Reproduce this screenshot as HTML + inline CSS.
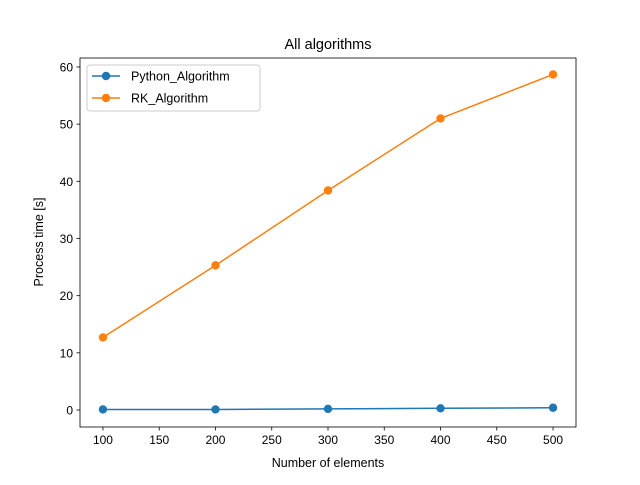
<!DOCTYPE html>
<html><head><meta charset="utf-8"><style>
body{margin:0;background:#fff;}
svg text{font-family:"Liberation Sans","DejaVu Sans",sans-serif;fill:#000;}
</style></head><body>
<svg id="chart" width="640" height="480" xmlns="http://www.w3.org/2000/svg">
<rect width="640" height="480" fill="#fff"/>
<text x="328" y="49" font-size="14.5" text-anchor="middle">All algorithms</text>
<g id="plot"></g>
<text x="328" y="467" font-size="12.5" text-anchor="middle">Number of elements</text>
<text transform="translate(43,242) rotate(-90)" font-size="12.5" text-anchor="middle">Process time [s]</text>
</svg>
<script>
const categories=[100,200,300,400,500];
const pythonValues=[0.1,0.1,0.2,0.3,0.4];
const rkValues=[12.7,25.3,38.4,51.0,58.7];
const xTicks=[100,150,200,250,300,350,400,450,500];
const yTicks=[0,10,20,30,40,50,60];
const L=80,R=576,T=58,B=427;
const xMin=79.6,xMax=520.4,yMin=-2.97,yMax=61.57;
const xs=v=>L+(v-xMin)/(xMax-xMin)*(R-L);
const ys=v=>B-(v-yMin)/(yMax-yMin)*(B-T);
const NS="http://www.w3.org/2000/svg";
const g=document.getElementById('plot');
function mk(tag,attrs,parent){const e=document.createElementNS(NS,tag);for(const k in attrs)e.setAttribute(k,attrs[k]);(parent||g).appendChild(e);return e;}
xTicks.forEach(t=>{
  const x=xs(t);
  const l=mk('line',{x1:x,x2:x,y1:B,y2:B+3.5,stroke:'#000','stroke-width':0.8});
  
  
  const tx=mk('text',{x:x,y:B+17,'font-size':12,'text-anchor':'middle'});tx.textContent=t;
  
  
});
yTicks.forEach(t=>{
  const y=ys(t);
  const l=mk('line',{x1:L-3.5,x2:L,y1:y,y2:y,stroke:'#000','stroke-width':0.8});
  
  
  const tx=mk('text',{x:L-7,y:y+4.5,'font-size':12,'text-anchor':'end'});tx.textContent=t;
  
  
});
function series(vals,color,name){
  const p=mk('polyline',{points:categories.map((c,i)=>xs(c)+','+ys(vals[i])).join(' '),fill:'none',stroke:color,'stroke-width':1.5});
  
  
  categories.forEach((c,i)=>{
    const m=mk('circle',{cx:xs(c),cy:ys(vals[i]),r:4.2,fill:color});
    
    
  });
}
series(pythonValues,'#1f77b4','python');
series(rkValues,'#ff7f0e','rk');
const frame=mk('rect',{x:L,y:T,width:R-L,height:B-T,fill:'none',stroke:'#000','stroke-width':0.8});


// legend
const lg=mk('g',{});


mk('rect',{x:87,y:65,width:173,height:46,rx:3,fill:'#fff','fill-opacity':0.8,stroke:'#ccc','stroke-width':1},lg);
[['Python_Algorithm','#1f77b4',76],['RK_Algorithm','#ff7f0e',98]].forEach(([n,c,y])=>{
  const e=mk('g',{},lg);
  
  
  mk('line',{x1:92,x2:120,y1:y,y2:y,stroke:c,'stroke-width':1.5},e);
  mk('circle',{cx:106,cy:y,r:4.2,fill:c},e);
  const t=mk('text',{x:131,y:y+4.5,'font-size':12.5},e);t.textContent=n;
});
</script>
</body></html>
